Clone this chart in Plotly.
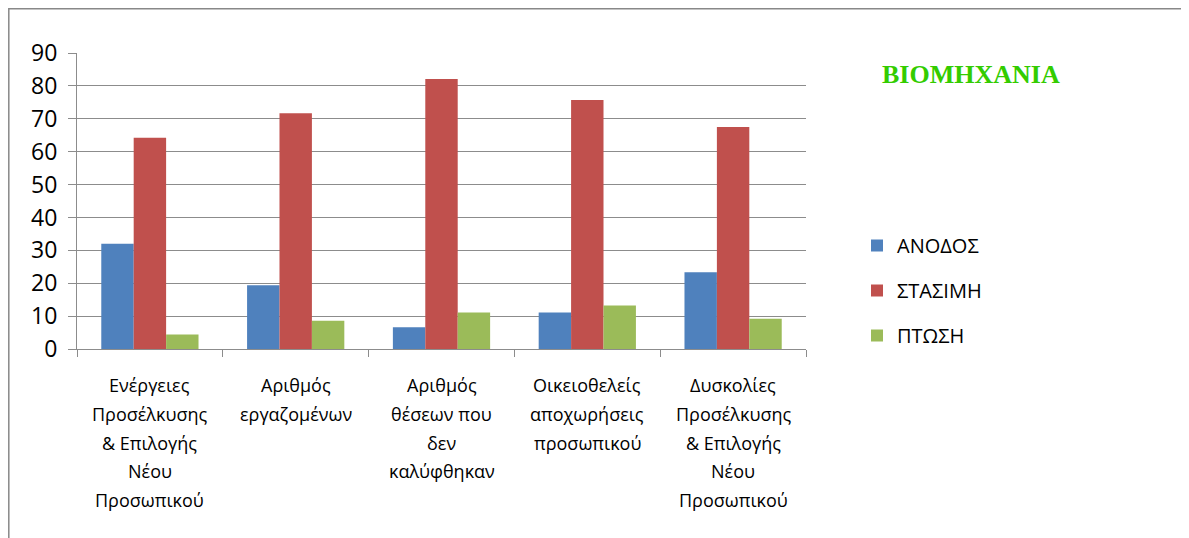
import plotly.graph_objects as go

categories = [
    "Ενέργειες\nΠροσέλκυσης\n& Επιλογής\nΝέου\nΠροσωπικού",
    "Αριθμός\nεργαζομένων",
    "Αριθμός\nθέσεων που\nδεν\nκαλύφθηκαν",
    "Οικειοθελείς\nαποχωρήσεις\nπροσωπικού",
    "Δυσκολίες\nΠροσέλκυσης\n& Επιλογής\nΝέου\nΠροσωπικού",
]
anodos = [32.0, 19.4, 6.6, 11.1, 23.3]
stasimi = [64.2, 71.7, 82.1, 75.7, 67.5]
ptosi = [4.4, 8.6, 11.1, 13.2, 9.2]
series_names = ["ΑΝΟΔΟΣ", "ΣΤΑΣΙΜΗ", "ΠΤΩΣΗ"]
series_colors = ["#4F81BD", "#C0504D", "#9BBB59"]
title_text = "BIOMHXANIA"
y_ticks = [0, 10, 20, 30, 40, 50, 60, 70, 80, 90]

OFF = 8  # page body margin in the browser
W, H = 1189 - OFF, 538 - OFF
# target plot area in screen pixels: x 77..806, y 53..349
ML, MT = 77 - OFF, 53 - OFF
MR = W - (806 - OFF)
MB = H - (349 - OFF)
pw = W - ML - MR
ph = H - MT - MB


def px(sx):
    return (sx - 77) / pw


def py(sy):
    return (349 - sy) / ph


fig = go.Figure()
for i, (name, vals) in enumerate(zip(series_names, [anodos, stasimi, ptosi])):
    fig.add_trace(go.Bar(
        x=categories, y=vals, name=name,
        marker=dict(color=series_colors[i], line=dict(width=0)),
        legendgroup=name,
    ))

grid = "#8c8c8c"
fig.update_layout(
    width=W, height=H,
    margin=dict(l=ML, r=MR, t=MT, b=MB),
    paper_bgcolor="white", plot_bgcolor="white",
    barmode="group", bargap=0.333, bargroupgap=0,
    font=dict(family="Open Sans", color="black"),
    xaxis=dict(
        type="category", showticklabels=False, ticks="outside",
        tickson="boundaries", ticklen=7, tickcolor=grid, tickwidth=1,
        showline=True, linecolor=grid, linewidth=1, showgrid=False,
    ),
    yaxis=dict(
        range=[0, 90], tickvals=y_ticks, ticks="outside", ticklen=8,
        tickcolor=grid, showgrid=True, gridcolor=grid, gridwidth=1,
        showline=True, linecolor=grid, linewidth=1, zeroline=False,
        tickfont=dict(family="Open Sans", size=23, color="black"),
        ticklabelstandoff=6,
    ),
    legend=dict(
        x=px(857), y=py(226), xanchor="left", yanchor="top",
        font=dict(family="Open Sans", size=20, color="black"),
        tracegroupgap=16, bgcolor="rgba(0,0,0,0)",
    ),
    showlegend=True,
)

# category labels, line by line
for cat in categories:
    for j, line in enumerate(cat.split("\n")):
        fig.add_annotation(
            x=cat, xref="x", y=0, yref="paper", yshift=-(36 + j * 28.8),
            text=line, showarrow=False, yanchor="middle", xanchor="center",
            font=dict(family="Open Sans", size=18, color="black"),
        )

fig.add_annotation(
    x=px(971), y=py(74), xref="paper", yref="paper",
    text="<b>" + title_text + "</b>", showarrow=False,
    xanchor="center", yanchor="middle",
    font=dict(family="Liberation Serif", size=26, color="#33CC00"),
)

# outer chart frame (left and top edges visible)
fig.add_shape(
    type="rect", xref="paper", yref="paper",
    x0=px(OFF + 0.8), x1=px(1189 + 10),
    y0=py(538 + 10), y1=py(OFF + 0.8),
    line=dict(color="#888888", width=1.5), layer="below",
)

fig.write_html("out.html")
